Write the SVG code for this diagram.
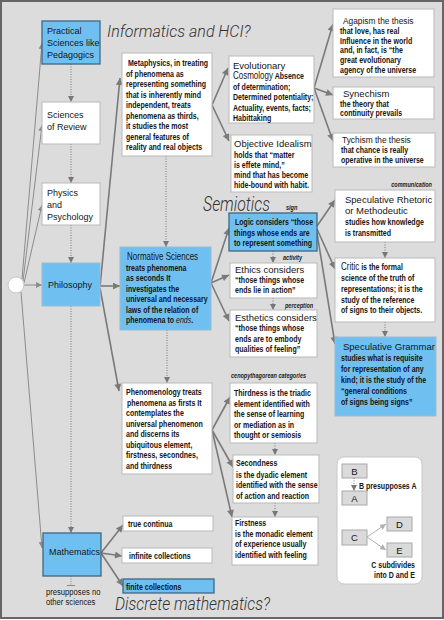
<svg xmlns="http://www.w3.org/2000/svg" width="444" height="620" viewBox="0 0 444 620">
<defs>
<style>
.bg{fill:#dcdcdc;stroke:#666;stroke-width:2}
.w{fill:#fff;stroke:#b9b9b9;stroke-width:1}
.b{fill:#6fc0f0;stroke:#9bbcd0;stroke-width:1}
.bd{fill:#6fc0f0;stroke:#3f6784;stroke-width:1.3}
.lg{fill:#dadada;stroke:#a8a8a8;stroke-width:1}
.t{font-family:"Liberation Sans",Arial,sans-serif;font-weight:bold;font-size:8.8px;fill:#151515}
.r{font-family:"Liberation Sans",Arial,sans-serif;font-size:10px;fill:#151515}
.h{font-family:"Liberation Sans",Arial,sans-serif;font-size:9.5px;fill:#151515}
.n{font-family:"Liberation Sans",Arial,sans-serif;font-size:9px;fill:#151515}
.s{font-family:"Liberation Sans",Arial,sans-serif;font-weight:bold;font-style:italic;font-size:6.5px;fill:#222}
.big{font-family:Roboto,"Liberation Sans",Arial,sans-serif;font-weight:300;font-style:italic;fill:#333}
.c{fill:none;stroke:#7a7a7a;stroke-width:1.6;marker-end:url(#a)}
.th{fill:none;stroke:#8c8c8c;stroke-width:1;marker-end:url(#as)}
.d{fill:none;stroke:#777;stroke-width:1;stroke-dasharray:1 1.5;marker-end:url(#ad)}
.lgc{fill:none;stroke:#b0b0b0;stroke-width:1;marker-end:url(#al)}
</style>
<marker id="a" viewBox="0 0 10 10" refX="10" refY="5" markerWidth="8" markerHeight="7" markerUnits="userSpaceOnUse" orient="auto"><path d="M0,0L10,5L0,10z" fill="#7a7a7a"/></marker>
<marker id="as" viewBox="0 0 10 10" refX="10" refY="5" markerWidth="6" markerHeight="6" markerUnits="userSpaceOnUse" orient="auto"><path d="M0,0L10,5L0,10z" fill="#8c8c8c"/></marker>
<marker id="ad" viewBox="0 0 10 10" refX="10" refY="5" markerWidth="6" markerHeight="6" markerUnits="userSpaceOnUse" orient="auto"><path d="M0,0L10,5L0,10z" fill="#777"/></marker>
<marker id="al" viewBox="0 0 10 10" refX="10" refY="5" markerWidth="6" markerHeight="6" markerUnits="userSpaceOnUse" orient="auto"><path d="M0,0L10,5L0,10z" fill="#b0b0b0"/></marker>
</defs>
<rect class="bg" x="1" y="1" width="442" height="617"/>

<g id="titles">
<text class="big" x="107" y="37" font-size="16">Informatics and HCI?</text>
<text class="big" x="203" y="211" font-size="20" font-style="normal" textLength="67" lengthAdjust="spacingAndGlyphs">Semiotics</text>
<text class="big" x="115" y="610" font-size="18" textLength="155" lengthAdjust="spacingAndGlyphs">Discrete mathematics?</text>
<text class="s" transform="translate(432 187) scale(.85 1)" text-anchor="end">communication</text>
<text class="s" transform="translate(286 210) scale(.85 1)">sign</text>
<text class="s" transform="translate(283 260) scale(.85 1)">activity</text>
<text class="s" transform="translate(285 308) scale(.85 1)">perception</text>
<text class="s" transform="translate(231 378) scale(.85 1)">cenopythagorean categories</text>
</g>

<g id="connectors">
<path class="th" d="M22,279L42,43"/>
<path class="th" d="M23,281L42,125"/>
<path class="th" d="M24,283L42,205"/>
<path class="th" d="M24,285L42,285"/>
<path class="th" d="M21,292L42,548"/>
<path class="c" d="M100,287L120,78"/>
<path class="c" d="M100,286L120,286"/>
<path class="c" d="M100,288L119,391"/>
<path class="c" d="M212,105L228,68"/>
<path class="c" d="M212,105L229,141"/>
<path class="c" d="M314,88L333,24"/>
<path class="c" d="M314,88L333,95"/>
<path class="c" d="M314,88L333,141"/>
<path class="c" d="M211,283L229,228"/>
<path class="c" d="M211,283L229,275"/>
<path class="c" d="M211,283L229,321"/>
<path class="c" d="M317,226L335,200"/>
<path class="c" d="M317,229L335,269"/>
<path class="c" d="M317,233L335,344"/>
<path class="c" d="M212,430L230,397"/>
<path class="c" d="M212,430L233,467"/>
<path class="c" d="M212,430L232,517"/>
<path class="c" d="M101,553L123,525"/>
<path class="c" d="M101,553L122,556"/>
<path class="c" d="M101,553L123,586"/>
<path class="d" d="M71,64V102"/>
<path class="d" d="M71,144V183"/>
<path class="d" d="M71,225V263"/>
<path class="d" d="M71,306V533"/>
<path class="d" d="M166,156V247"/>
<path class="d" d="M167,330V383"/>
<path class="d" d="M273,251V263"/>
<path class="d" d="M273,298V310"/>
<path class="d" d="M385,242V258"/>
<path class="d" d="M385,322V337"/>
<path class="d" d="M275,443V455"/>
<path class="d" d="M275,503V517"/>
<path d="M71,576V585" fill="none" stroke="#888" stroke-width="1" stroke-dasharray="1 1.5"/>
<path d="M67,585.5H75" fill="none" stroke="#888" stroke-width="1"/>
</g>

<g id="origin"><circle cx="16" cy="285" r="8" fill="#fff" stroke="#c8c8c8"/></g>

<g id="practical">
<rect class="bd" x="42" y="21" width="58" height="43"/>
<text class="n" x="47" y="34">Practical</text>
<text class="n" x="47" y="46">Sciences like</text>
<text class="n" x="47" y="58">Pedagogics</text>
</g>
<g id="review">
<rect class="w" x="42" y="102" width="58" height="42"/>
<text class="n" x="47" y="118">Sciences</text>
<text class="n" x="47" y="130">of Review</text>
</g>
<g id="physics">
<rect class="w" x="42" y="183" width="58" height="42"/>
<text class="n" x="47" y="196">Physics</text>
<text class="n" x="47" y="208">and</text>
<text class="n" x="47" y="220">Psychology</text>
</g>
<g id="philosophy">
<rect class="b" x="42" y="263" width="58" height="43"/>
<text class="n" x="48" y="288">Philosophy</text>
</g>
<g id="mathematics">
<rect class="bd" x="43" y="533" width="58" height="43"/>
<text class="n" x="49" y="555" fill="#14233a">Mathematics</text>
<text class="n" transform="translate(46 595) scale(.85 1)" fill="#777" font-size="8">presupposes no</text>
<text class="n" transform="translate(46 605) scale(.85 1)" fill="#777" font-size="8">other sciences</text>
</g>

<g id="metaphysics">
<rect class="w" x="122" y="53" width="90" height="103"/>
<text class="t" transform="translate(128 66) scale(.8 1)">Metaphysics, in treating</text>
<text class="t" transform="translate(126 76.5) scale(.8 1)">of phenomena as</text>
<text class="t" transform="translate(126 87) scale(.8 1)">representing something</text>
<text class="t" transform="translate(126 97.5) scale(.8 1)">that is inherently mind</text>
<text class="t" transform="translate(126 108) scale(.8 1)">independent, treats</text>
<text class="t" transform="translate(126 118.5) scale(.8 1)">phenomena as thirds,</text>
<text class="t" transform="translate(126 129) scale(.8 1)">it studies the most</text>
<text class="t" transform="translate(126 139.5) scale(.8 1)">general features of</text>
<text class="t" transform="translate(126 150) scale(.8 1)">reality and real objects</text>
</g>
<g id="cosmology">
<rect class="w" x="229" y="56" width="85" height="67"/>
<text class="h" x="233" y="68.5">Evolutionary</text>
<text transform="translate(233 79) scale(.8 1)"><tspan class="r">Cosmology</tspan><tspan class="t"> Absence</tspan></text>
<text class="t" transform="translate(233 89.5) scale(.8 1)">of determination;</text>
<text class="t" transform="translate(233 100) scale(.8 1)">Determined potentiality;</text>
<text class="t" transform="translate(233 110.5) scale(.8 1)">Actuality, events, facts;</text>
<text class="t" transform="translate(233 121) scale(.8 1)">Habittaking</text>
</g>
<g id="idealism">
<rect class="w" x="231" y="135" width="81" height="57"/>
<text class="h" x="234" y="146.5">Objective Idealism</text>
<text class="t" transform="translate(234 158) scale(.8 1)">holds that “matter</text>
<text class="t" transform="translate(234 168) scale(.8 1)">is effete mind,”</text>
<text class="t" transform="translate(234 178) scale(.8 1)">mind that has become</text>
<text class="t" transform="translate(234 188) scale(.8 1)">hide-bound with habit.</text>
</g>
<g id="agapism">
<rect class="w" x="333" y="9" width="101" height="68"/>
<text class="h" transform="translate(343 24) scale(.88 1)">Agapism the thesis</text>
<text class="t" transform="translate(340 34) scale(.8 1)">that love, has real</text>
<text class="t" transform="translate(340 43.5) scale(.8 1)">Influence in the world</text>
<text class="t" transform="translate(340 53) scale(.8 1)">and, in fact, is “the</text>
<text class="t" transform="translate(340 63) scale(.8 1)">great evolutionary</text>
<text class="t" transform="translate(340 73) scale(.8 1)">agency of the universe</text>
</g>
<g id="synechism">
<rect class="w" x="333" y="87" width="101" height="32"/>
<text class="h" x="343" y="96.5">Synechism</text>
<text class="t" transform="translate(340 106.5) scale(.8 1)">the theory that</text>
<text class="t" transform="translate(340 116) scale(.8 1)">continuity prevails</text>
</g>
<g id="tychism">
<rect class="w" x="333" y="133" width="102" height="34"/>
<text class="h" transform="translate(342 142.5) scale(.88 1)">Tychism the thesis</text>
<text class="t" transform="translate(341 153) scale(.8 1)">that chance is really</text>
<text class="t" transform="translate(341 163) scale(.8 1)">operative in the universe</text>
</g>
<g id="normative">
<rect class="b" x="120" y="247" width="91" height="83"/>
<text class="r" transform="translate(127 260) scale(.8 1)">Normative Sciences</text>
<text class="t" transform="translate(126 270.5) scale(.8 1)">treats phenomena</text>
<text class="t" transform="translate(126 281) scale(.8 1)">as seconds It</text>
<text class="t" transform="translate(126 291.5) scale(.8 1)">investigates the</text>
<text class="t" transform="translate(126 302) scale(.8 1)">universal and necessary</text>
<text class="t" transform="translate(126 312.5) scale(.8 1)">laws of the relation of</text>
<text class="t" transform="translate(126 323) scale(.8 1)">phenomena to <tspan font-style="italic" font-weight="normal">ends</tspan>.</text>
</g>
<g id="logic">
<rect class="bd" x="229" y="213" width="88" height="38"/>
<text class="t" transform="translate(235 225) scale(.8 1)" font-size="9.2">Logic considers “those</text>
<text class="t" transform="translate(234 235.5) scale(.8 1)" font-size="9.2">things whose ends are</text>
<text class="t" transform="translate(234 246) scale(.8 1)" font-size="9.2">to represent something</text>
</g>
<g id="ethics">
<rect class="w" x="230" y="263" width="87" height="35"/>
<text class="h" x="235" y="272.5">Ethics considers</text>
<text class="t" transform="translate(235 282.5) scale(.8 1)">“those things whose</text>
<text class="t" transform="translate(235 293) scale(.8 1)">ends lie in action”</text>
</g>
<g id="esthetics">
<rect class="w" x="230" y="310" width="87" height="47"/>
<text class="h" x="235" y="320.5">Esthetics considers</text>
<text class="t" transform="translate(235 331) scale(.8 1)">“those things whose</text>
<text class="t" transform="translate(235 341.5) scale(.8 1)">ends are to embody</text>
<text class="t" transform="translate(235 352) scale(.8 1)">qualities of feeling”</text>
</g>
<g id="rhetoric">
<rect class="w" x="335" y="190" width="100" height="52"/>
<text class="h" x="345" y="203">Speculative Rhetoric</text>
<text class="h" x="345" y="214">or Methodeutic</text>
<text class="t" transform="translate(345 225) scale(.8 1)">studies how knowledge</text>
<text class="t" transform="translate(345 236) scale(.8 1)">is transmitted</text>
</g>
<g id="critic">
<rect class="w" x="335" y="258" width="100" height="64"/>
<text transform="translate(341 270) scale(.8 1)"><tspan class="r">Critic</tspan><tspan class="t"> is the formal</tspan></text>
<text class="t" transform="translate(341 281) scale(.8 1)">science of the truth of</text>
<text class="t" transform="translate(341 292) scale(.8 1)">representations; it is the</text>
<text class="t" transform="translate(341 302.5) scale(.8 1)">study of the reference</text>
<text class="t" transform="translate(341 313) scale(.8 1)">of signs to their objects.</text>
</g>
<g id="grammar">
<rect class="b" x="335" y="337" width="101" height="79"/>
<text class="h" x="343" y="349.5">Speculative Grammar</text>
<text class="t" transform="translate(341 360.5) scale(.8 1)">studies what is requisite</text>
<text class="t" transform="translate(341 371.5) scale(.8 1)">for representation of any</text>
<text class="t" transform="translate(341 382.5) scale(.8 1)">kind; it is the study of the</text>
<text class="t" transform="translate(341 394) scale(.8 1)">“general conditions</text>
<text class="t" transform="translate(341 405) scale(.8 1)">of signs being signs”</text>
</g>
<g id="phenomenology">
<rect class="w" x="122" y="383" width="90" height="91"/>
<text class="t" transform="translate(126 395) scale(.8 1)">Phenomenology treats</text>
<text class="t" transform="translate(127 405.5) scale(.8 1)">phenomena as firsts It</text>
<text class="t" transform="translate(126 416) scale(.8 1)">contemplates the</text>
<text class="t" transform="translate(126 426.5) scale(.8 1)">universal phenomenon</text>
<text class="t" transform="translate(126 437) scale(.8 1)">and discerns its</text>
<text class="t" transform="translate(126 447.5) scale(.8 1)">ubiquitous element,</text>
<text class="t" transform="translate(126 458) scale(.8 1)">firstness, secondnes,</text>
<text class="t" transform="translate(126 468.5) scale(.8 1)">and thirdness</text>
</g>
<g id="thirdness">
<rect class="w" x="230" y="383" width="87" height="60"/>
<text class="t" transform="translate(234 396) scale(.8 1)">Thirdness is the triadic</text>
<text class="t" transform="translate(234 406.5) scale(.8 1)">element identified with</text>
<text class="t" transform="translate(234 417) scale(.8 1)">the sense of learning</text>
<text class="t" transform="translate(234 427.5) scale(.8 1)">or mediation as in</text>
<text class="t" transform="translate(234 438) scale(.8 1)">thought or semiosis</text>
</g>
<g id="secondness">
<rect class="w" x="233" y="455" width="86" height="48"/>
<text class="t" transform="translate(236 466) scale(.8 1)">Secondness</text>
<text class="t" transform="translate(236 477.5) scale(.8 1)">is the dyadic element</text>
<text class="t" transform="translate(236 488) scale(.8 1)">identified with the sense</text>
<text class="t" transform="translate(236 498.5) scale(.8 1)">of action and reaction</text>
</g>
<g id="firstness">
<rect class="w" x="232" y="517" width="86" height="48"/>
<text class="t" transform="translate(235 525.5) scale(.8 1)">Firstness</text>
<text class="t" transform="translate(235 536.5) scale(.8 1)">is the monadic element</text>
<text class="t" transform="translate(235 547) scale(.8 1)">of experience usually</text>
<text class="t" transform="translate(235 557.5) scale(.8 1)">identified with feeling</text>
</g>
<g id="continua">
<rect class="w" x="123" y="516" width="90" height="15"/>
<text class="t" transform="translate(128 527) scale(.8 1)">true continua</text>
</g>
<g id="infinite">
<rect class="w" x="122" y="548" width="90" height="15"/>
<text class="t" transform="translate(129 559) scale(.8 1)">infinite collections</text>
</g>
<g id="finite">
<rect class="bd" x="123" y="579" width="91" height="14"/>
<text class="t" transform="translate(126 589.5) scale(.8 1)">finite collections</text>
</g>

<g id="legend">
<rect x="337" y="457" width="85" height="127" rx="7" fill="#fff" stroke="#c8c8c8"/>
<rect class="lg" x="342" y="464" width="25" height="14"/>
<text class="h" x="354.5" y="474.5" text-anchor="middle" font-size="9">B</text>
<path class="d" d="M354,478V491"/>
<text class="t" transform="translate(359 489) scale(.8 1)">B presupposes A</text>
<rect class="lg" x="342" y="491" width="25" height="14"/>
<text class="h" x="354.5" y="501.5" text-anchor="middle" font-size="9">A</text>
<rect class="lg" x="342" y="530" width="25" height="15"/>
<text class="h" x="354.5" y="541" text-anchor="middle" font-size="9">C</text>
<rect class="lg" x="387" y="517" width="25" height="14"/>
<text class="h" x="399.5" y="527.5" text-anchor="middle" font-size="9">D</text>
<rect class="lg" x="387" y="543" width="25" height="14"/>
<text class="h" x="399.5" y="553.5" text-anchor="middle" font-size="9">E</text>
<path class="lgc" d="M367,537L386,524"/>
<path class="lgc" d="M367,537L386,550"/>
<text class="t" transform="translate(415 568) scale(.8 1)" text-anchor="end">C subdivides</text>
<text class="t" transform="translate(415 577.5) scale(.8 1)" text-anchor="end">into D and E</text>
</g>
</svg>
